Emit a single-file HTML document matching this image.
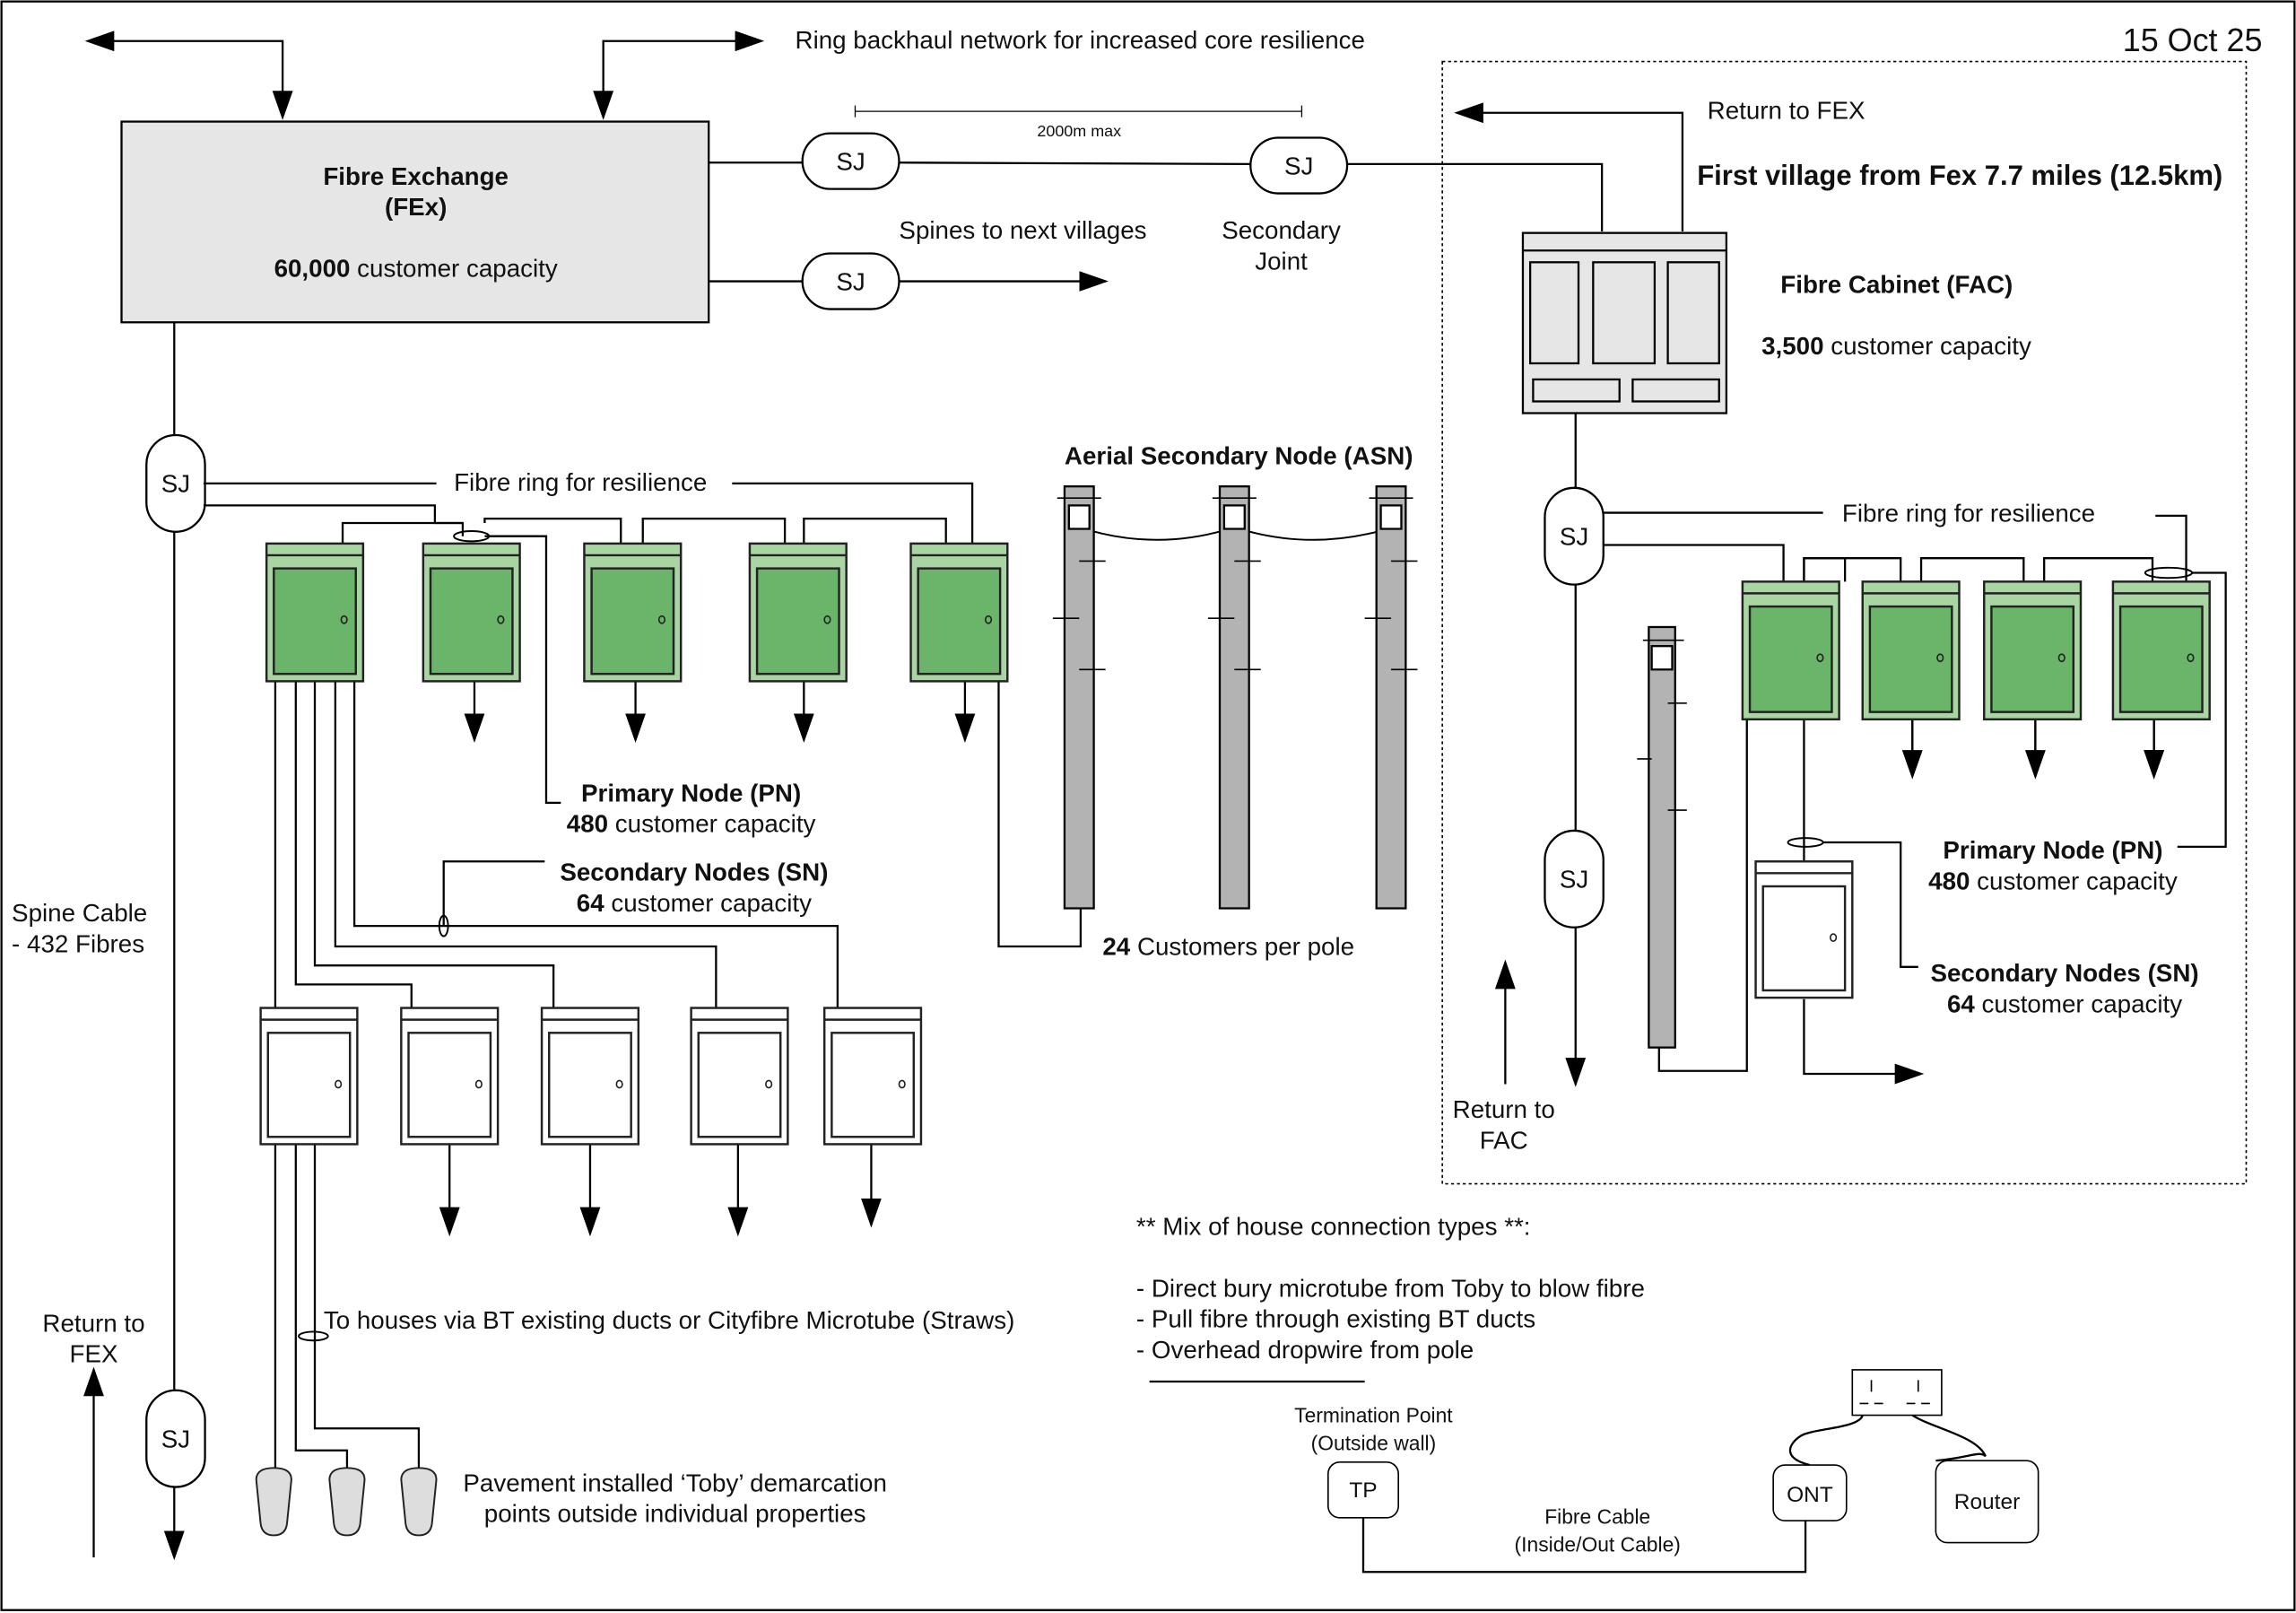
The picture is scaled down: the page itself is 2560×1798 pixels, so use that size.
<!DOCTYPE html>
<html><head><meta charset="utf-8"><style>html,body{margin:0;padding:0;background:#fff}svg{display:block}text{font-family:"Liberation Sans",sans-serif;fill:#111}</style></head><body>
<svg width="2560" height="1798" viewBox="0 0 1568 1101" preserveAspectRatio="none" xmlns="http://www.w3.org/2000/svg">
<defs>
<marker id="a" viewBox="0 0 10 10" refX="9" refY="5" markerWidth="7" markerHeight="7" orient="auto-start-reverse" markerUnits="userSpaceOnUse"><path d="M0,0L10,5L0,10z" fill="#000"/></marker>
<marker id="b" viewBox="0 0 10 10" refX="9" refY="5" markerWidth="20" markerHeight="14" orient="auto-start-reverse" markerUnits="userSpaceOnUse" preserveAspectRatio="none"><path d="M0,0L10,5L0,10z" fill="#000"/></marker>
<g id="pn"><rect x="0" y="0" width="66" height="94" fill="#a8d5a2" stroke="#222" stroke-width="1.5"/><line x1="0" y1="8" x2="66" y2="8" stroke="#222" stroke-width="1.5"/><rect x="5" y="17" width="56" height="72" fill="#6ab56a" stroke="#222" stroke-width="1.5"/><ellipse cx="53" cy="52" rx="2" ry="2.5" fill="none" stroke="#222" stroke-width="1"/></g>
<g id="sn"><rect x="0" y="0" width="66" height="93" fill="#fff" stroke="#222" stroke-width="1.5"/><line x1="0" y1="8" x2="66" y2="8" stroke="#222" stroke-width="1.5"/><rect x="5" y="17" width="56" height="71" fill="#fff" stroke="#222" stroke-width="1.5"/><ellipse cx="53" cy="52" rx="2" ry="2.5" fill="none" stroke="#222" stroke-width="1"/></g>
<g id="toby"><path d="M0,8 Q0,0 12,0 Q24,0 24,8 L21,38 Q20,46 12,46 Q4,46 3,38 Z" fill="#ddd" stroke="#222" stroke-width="1.2"/></g>
</defs>
<g fill="none" stroke="#000" stroke-width="1.4">
<rect x="1" y="1" width="1566" height="1098"/>
<path d="M193,80V28H60" marker-start="url(#b)" marker-end="url(#b)"/>
<path d="M412,80V28H520" marker-start="url(#b)" marker-end="url(#b)"/>
<rect x="83" y="83" width="401" height="137" fill="#e6e6e6"/>
<line x1="484" y1="111" x2="548" y2="111"/><line x1="614" y1="111" x2="854" y2="112"/>
<path d="M920,112H1094V158"/>
<path d="M584,76H889M584,72V80M889,72V80" stroke-width="0.8"/>
<line x1="484" y1="192" x2="548" y2="192"/><line x1="614" y1="192" x2="755" y2="192" marker-end="url(#b)"/>
<rect x="548" y="91" width="66" height="38" rx="19" fill="#fff"/>
<rect x="854" y="94" width="66" height="38" rx="19" fill="#fff"/>
<rect x="548" y="173" width="66" height="38" rx="19" fill="#fff"/>
<rect x="985" y="42" width="549" height="766" stroke-dasharray="2,2" stroke-width="1"/>
<path d="M1149,158V77H995" marker-end="url(#b)"/>
<rect x="1040" y="159" width="139" height="123" fill="#e6e6e6"/><line x1="1040" y1="171" x2="1179" y2="171"/>
<rect x="1045" y="179" width="33" height="69" fill="#e6e6e6"/><rect x="1088" y="179" width="42" height="69" fill="#e6e6e6"/><rect x="1139" y="179" width="35" height="69" fill="#e6e6e6"/>
<rect x="1047" y="259" width="59" height="15" fill="#e6e6e6"/><rect x="1115" y="259" width="59" height="15" fill="#e6e6e6"/>
<line x1="1076" y1="282" x2="1076" y2="333"/><line x1="1076" y1="399" x2="1076" y2="567"/><line x1="1076" y1="633" x2="1076" y2="740" marker-end="url(#b)"/>
<rect x="1055" y="333" width="40" height="66" rx="20" fill="#fff"/><rect x="1055" y="567" width="40" height="66" rx="20" fill="#fff"/>
<path d="M1095,350H1245M1472,352H1493V398M1095,372H1218V397"/>
<path d="M1232,397V381H1260V397M1270,381"/>
<path d="M1232,397V381H1298V397M1312,397V381H1382V397M1396,397V381H1470V397"/>
<path d="M1497,391H1520V578H1487"/>
<path d="M1306,490V530M1390,490V530M1471,490V530" marker-end="url(#b)"/>
<line x1="1306" y1="490" x2="1306" y2="530" marker-end="url(#b)"/><line x1="1390" y1="490" x2="1390" y2="530" marker-end="url(#b)"/><line x1="1471" y1="490" x2="1471" y2="530" marker-end="url(#b)"/>
<line x1="1232" y1="490" x2="1232" y2="588"/>
<path d="M1245,575H1298V660H1310"/>
<path d="M1232,682V733H1312" marker-end="url(#b)"/>
<path d="M1193,490V731H1133V715"/>
<rect x="1126" y="428" width="18" height="287" fill="#b3b3b3"/><rect x="1128" y="441" width="14" height="16" fill="#fff"/>
<path d="M1122,437H1150M1118,518H1128M1139,480H1152M1139,553H1152" stroke-width="1"/>
<path d="M1028,740V657" marker-end="url(#b)"/>
<line x1="119" y1="220" x2="119" y2="297"/><line x1="119" y1="363" x2="119" y2="949"/><line x1="119" y1="1015" x2="119" y2="1063" marker-end="url(#b)"/>
<rect x="100" y="297" width="40" height="66" rx="20" fill="#fff"/><rect x="100" y="949" width="40" height="66" rx="20" fill="#fff"/>
<path d="M64,1063V935" marker-end="url(#b)"/>
<path d="M139,330H298M500,330H664V371M139,345H297V357H316V366"/>
<path d="M234,371V357H316M331,357V354H424V371M439,371V354H536V371M549,371V354H646V371"/>
<path d="M331,366H373V548H383"/>
<path d="M682,465V646H738V620"/>
<path d="M202,465V672H281V688M215,465V659H378V688M229,465V646H489V688M242,465V632H572V688M188,465V688"/>
<path d="M303,632V588H372"/>
<path d="M188,780V1002M202,780V990H237V1002M215,780V975H286V1002"/>
<path d="M785,943H932M931,1036V1073H1233V1038"/>
<path d="M1236,1000C1216,995 1222,985 1230,980C1238,975 1270,975 1272,966M1322,997C1345,995 1352,990 1356,994C1350,980 1320,975 1306,966"/>
</g>
<g stroke="#000" stroke-width="1.4">
<line x1="324" y1="465" x2="324" y2="505" marker-end="url(#b)"/><line x1="434" y1="465" x2="434" y2="505" marker-end="url(#b)"/><line x1="549" y1="465" x2="549" y2="505" marker-end="url(#b)"/><line x1="659" y1="465" x2="659" y2="505" marker-end="url(#b)"/>
<line x1="307" y1="780" x2="307" y2="842" marker-end="url(#b)"/><line x1="403" y1="780" x2="403" y2="842" marker-end="url(#b)"/><line x1="504" y1="780" x2="504" y2="842" marker-end="url(#b)"/><line x1="595" y1="780" x2="595" y2="836" marker-end="url(#b)"/>
</g>
<use href="#pn" x="182" y="371"/><use href="#pn" x="289" y="371"/><use href="#pn" x="399" y="371"/><use href="#pn" x="512" y="371"/><use href="#pn" x="622" y="371"/>
<use href="#pn" x="1190" y="397"/><use href="#pn" x="1272" y="397"/><use href="#pn" x="1355" y="397"/><use href="#pn" x="1443" y="397"/>
<use href="#sn" x="1199" y="588"/>
<use href="#sn" x="178" y="688"/><use href="#sn" x="274" y="688"/><use href="#sn" x="370" y="688"/><use href="#sn" x="472" y="688"/><use href="#sn" x="563" y="688"/>
<use href="#toby" x="175" y="1002"/><use href="#toby" x="225" y="1002"/><use href="#toby" x="274" y="1002"/>
<g fill="none" stroke="#000" stroke-width="1.2">
<ellipse cx="322" cy="366" rx="12" ry="3.5"/><ellipse cx="1481" cy="391" rx="16" ry="3.5"/><ellipse cx="1233" cy="575" rx="12" ry="3"/><ellipse cx="303" cy="632" rx="3" ry="7"/><ellipse cx="214" cy="912" rx="10" ry="3"/>
<path d="M744,362Q790,375 836,362M850,362Q897,375 944,362"/>
</g>
<g stroke="#000" stroke-width="1.4">
<rect x="727" y="332" width="20" height="288" fill="#b3b3b3"/><rect x="833" y="332" width="20" height="288" fill="#b3b3b3"/><rect x="940" y="332" width="20" height="288" fill="#b3b3b3"/>
<rect x="730" y="345" width="14" height="16" fill="#fff"/><rect x="836" y="345" width="14" height="16" fill="#fff"/><rect x="943" y="345" width="14" height="16" fill="#fff"/>
<path d="M722,340H752M828,340H858M935,340H965M737,383H755M843,383H861M950,383H968M719,422H737M825,422H843M932,422H950M737,457H755M843,457H861M950,457H968" stroke-width="1" fill="none"/>
<rect x="907" y="998" width="48" height="38" rx="8" fill="#fff" stroke-width="1"/>
<rect x="1211" y="1000" width="50" height="38" rx="8" fill="#fff" stroke-width="1"/>
<rect x="1322" y="997" width="70" height="56" rx="8" fill="#fff" stroke-width="1"/>
<rect x="1265" y="935" width="61" height="31" fill="#fff" stroke-width="1"/>
<path d="M1278,942V950M1310,942V950M1270,958H1276M1280,958H1286M1302,958H1308M1312,958H1318" stroke-width="1"/>
</g>
<g font-size="17">
<text x="543" y="33">Ring backhaul network for increased core resilience</text>
<text x="1545" y="35" font-size="22" text-anchor="end">15 Oct 25</text>
<text x="284" y="126" text-anchor="middle" font-weight="bold">Fibre Exchange</text>
<text x="284" y="147" text-anchor="middle" font-weight="bold">(FEx)</text>
<text x="284" y="189" text-anchor="middle"><tspan font-weight="bold">60,000</tspan> customer capacity</text>
<text x="581" y="116" text-anchor="middle">SJ</text><text x="887" y="119" text-anchor="middle">SJ</text><text x="581" y="198" text-anchor="middle">SJ</text>
<text x="737" y="93" text-anchor="middle" font-size="11">2000m max</text>
<text x="614" y="163">Spines to next villages</text>
<text x="875" y="163" text-anchor="middle">Secondary</text><text x="875" y="184" text-anchor="middle">Joint</text>
<text x="1166" y="81">Return to FEX</text>
<text x="1159" y="126" font-size="19" font-weight="bold">First village from Fex 7.7 miles (12.5km)</text>
<text x="1216" y="200" font-weight="bold">Fibre Cabinet (FAC)</text>
<text x="1203" y="242"><tspan font-weight="bold">3,500</tspan> customer capacity</text>
<text x="1075" y="372" text-anchor="middle">SJ</text><text x="1075" y="606" text-anchor="middle">SJ</text>
<text x="1258" y="356">Fibre ring for resilience</text>
<text x="1402" y="586" text-anchor="middle" font-weight="bold">Primary Node (PN)</text>
<text x="1402" y="607" text-anchor="middle"><tspan font-weight="bold">480</tspan> customer capacity</text>
<text x="1410" y="670" text-anchor="middle" font-weight="bold">Secondary  Nodes (SN)</text>
<text x="1410" y="691" text-anchor="middle"><tspan font-weight="bold">64</tspan> customer capacity</text>
<text x="1027" y="763" text-anchor="middle">Return to</text><text x="1027" y="784" text-anchor="middle">FAC</text>
<text x="120" y="336" text-anchor="middle">SJ</text><text x="120" y="988" text-anchor="middle">SJ</text>
<text x="310" y="335">Fibre ring for resilience</text>
<text x="727" y="317" font-weight="bold">Aerial Secondary Node (ASN)</text>
<text x="753" y="652"><tspan font-weight="bold">24</tspan> Customers per pole</text>
<text x="472" y="547" text-anchor="middle" font-weight="bold">Primary Node (PN)</text>
<text x="472" y="568" text-anchor="middle"><tspan font-weight="bold">480</tspan> customer capacity</text>
<text x="474" y="601" text-anchor="middle" font-weight="bold">Secondary  Nodes (SN)</text>
<text x="474" y="622" text-anchor="middle"><tspan font-weight="bold">64</tspan> customer capacity</text>
<text x="8" y="629">Spine Cable</text><text x="8" y="650">- 432 Fibres</text>
<text x="64" y="909" text-anchor="middle">Return to</text><text x="64" y="930" text-anchor="middle">FEX</text>
<text x="221" y="907">To houses via BT existing ducts or Cityfibre Microtube (Straws)</text>
<text x="461" y="1018" text-anchor="middle">Pavement installed ‘Toby’ demarcation</text>
<text x="461" y="1039" text-anchor="middle">points outside individual properties</text>
<text x="776" y="843">** Mix of house connection types **:</text>
<text x="776" y="885">- Direct bury microtube from Toby to blow fibre</text>
<text x="776" y="906">- Pull fibre through existing BT ducts</text>
<text x="776" y="927">- Overhead dropwire from pole</text>
<text x="938" y="971" text-anchor="middle" font-size="14">Termination Point</text>
<text x="938" y="990" text-anchor="middle" font-size="14">(Outside wall)</text>
<text x="931" y="1022" text-anchor="middle" font-size="15">TP</text>
<text x="1236" y="1025" text-anchor="middle" font-size="15">ONT</text>
<text x="1357" y="1030" text-anchor="middle" font-size="15">Router</text>
<text x="1091" y="1040" text-anchor="middle" font-size="14">Fibre Cable</text>
<text x="1091" y="1059" text-anchor="middle" font-size="14">(Inside/Out Cable)</text>
</g>
</svg>
</body></html>
